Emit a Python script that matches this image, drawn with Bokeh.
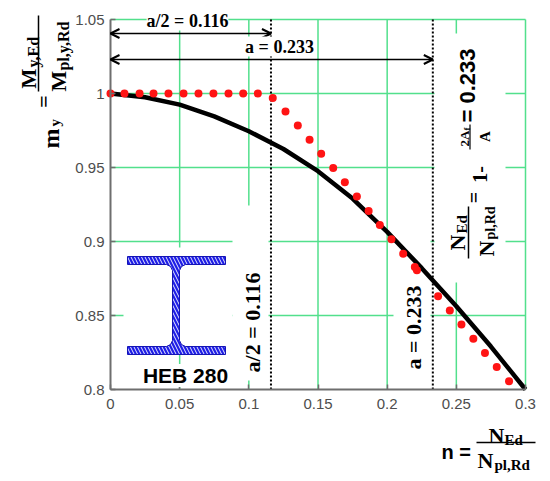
import math
from bokeh.plotting import figure
from bokeh.models import Label, Arrow, OpenHead, FixedTicker, Range1d
from bokeh.embed import file_html
from bokeh.resources import INLINE

# ---------------- data ----------------
x_ticks = [0, 0.05, 0.1, 0.15, 0.2, 0.25, 0.3]
x_tick_labels = ["0", "0.05", "0.1", "0.15", "0.2", "0.25", "0.3"]
y_ticks = [0.8, 0.85, 0.9, 0.95, 1.0, 1.05]
y_tick_labels = ["0.8", "0.85", "0.9", "0.95", "1", "1.05"]

# black curve
n_curve = [0, 0.025, 0.05, 0.075, 0.1, 0.125, 0.15, 0.175, 0.2, 0.225,
           0.25, 0.275, 0.3]
m_curve = [1.0, 0.9975, 0.9925, 0.9845, 0.9745, 0.9625, 0.9475, 0.929,
           0.9065, 0.882, 0.8562, 0.829, 0.8]

# red dots
n_dots = [0, 0.0101, 0.021, 0.0311, 0.0419, 0.0528, 0.0636, 0.0744, 0.0853,
          0.0959, 0.1065, 0.1173, 0.1265, 0.1354, 0.1439, 0.1523, 0.161,
          0.1694, 0.1781, 0.1866, 0.1947, 0.2031, 0.2116, 0.22, 0.2215,
          0.2368, 0.2453, 0.2537, 0.2623, 0.2707, 0.2792, 0.2881]
m_dots = [1.0, 1.0, 1.0, 1.0, 1.0, 1.0, 1.0, 1.0, 1.0,
          1.0, 1.0, 0.997, 0.9878, 0.9784, 0.9687, 0.9593, 0.9497,
          0.9401, 0.9304, 0.9206, 0.9111, 0.9016, 0.8917, 0.8828, 0.8805,
          0.8630, 0.8534, 0.8439, 0.8343, 0.8247, 0.8152, 0.8056]

a_half = 0.116
a_full = 0.233

X_RANGE = (0, 0.3)
Y_RANGE = (0.8, 1.05)

# ---------------- layout ----------------
W, H = 542, 473
PL, PR, PT, PB = 110, 525, 19, 389   # where the axes box sits, canvas pixels

GRID = "#52e08c"
AXIS = "#6e6e6e"
SERIF = "Liberation Serif"
SANS = "Liberation Sans"


def X(px):
    return X_RANGE[0] + (px - PL) / (PR - PL) * (X_RANGE[1] - X_RANGE[0])


def Y(py):
    return Y_RANGE[1] - (py - PT) / (PB - PT) * (Y_RANGE[1] - Y_RANGE[0])


# the frame covers the whole canvas so that every text can be placed freely
p = figure(width=W, height=H, output_backend="svg", toolbar_location=None,
           x_range=Range1d(X(0), X(W)), y_range=Range1d(Y(H), Y(0)),
           min_border=0)
p.outline_line_color = None
p.background_fill_color = "white"
p.border_fill_color = "white"
p.xgrid.visible = False
p.ygrid.visible = False

p.xaxis.fixed_location = Y_RANGE[0]
p.yaxis.fixed_location = X_RANGE[0]
p.xaxis.bounds = X_RANGE
p.yaxis.bounds = Y_RANGE

for ax, ticks, labels in ((p.xaxis[0], x_ticks, x_tick_labels),
                          (p.yaxis[0], y_ticks, y_tick_labels)):
    ax.ticker = FixedTicker(ticks=ticks)
    ax.major_label_overrides = {t: l for t, l in zip(ticks, labels)}
    ax.axis_line_color = AXIS
    ax.axis_line_width = 2
    ax.major_tick_line_color = AXIS
    ax.major_tick_line_width = 1.5
    ax.major_tick_in = 5
    ax.major_tick_out = 0
    ax.minor_tick_line_color = None
    ax.major_label_text_font = SANS
    ax.major_label_text_font_size = "15px"
    ax.major_label_text_color = "#4d4d4d"
p.xaxis.major_label_standoff = 9
p.yaxis.major_label_standoff = 6

# grid lines at the tick values
gx = x_ticks[1:]
gy = y_ticks[1:]
p.segment(x0=gx, y0=[Y_RANGE[0]] * len(gx), x1=gx, y1=[Y_RANGE[1]] * len(gx),
          line_color=GRID, line_width=1.5)
p.segment(x0=[X_RANGE[0]] * len(gy), y0=gy, x1=[X_RANGE[1]] * len(gy), y1=gy,
          line_color=GRID, line_width=1.5)

# white boxes behind the in-plot texts and picture
mask_l = [123, 232, 393, 434]
mask_r = [232, 268, 430, 505]
mask_t = [247, 205, 236, 33]
mask_b = [345, 380, 380, 282]
p.quad(left=[X(v) for v in mask_l], right=[X(v) for v in mask_r],
       top=[Y(v) for v in mask_t], bottom=[Y(v) for v in mask_b],
       fill_color="white", line_color=None)

# I-beam icon (outline in canvas pixels)
ib_px = [127, 225, 225, 185, 181, 179, 179, 181, 185, 225, 225, 127, 127,
         166, 170, 172, 172, 170, 166, 127]
ib_py = [256, 256, 264, 264, 266, 270, 340, 344, 346, 346, 354, 354, 346,
         346, 344, 340, 270, 266, 264, 264]
p.patch([X(v) for v in ib_px], [Y(v) for v in ib_py], fill_color="#1e1ee6",
        line_color="#1414b4", line_width=1, hatch_pattern="left_diagonal_line",
        hatch_color="white", hatch_weight=0.9, hatch_scale=7)

# vertical dotted lines at a/2 and a
p.segment(x0=[a_half, a_full], y0=[Y_RANGE[0]] * 2, x1=[a_half, a_full],
          y1=[Y_RANGE[1]] * 2, line_color="black", line_width=2, line_dash="2 2")

# curve and dots
p.line(n_curve, m_curve, line_color="black", line_width=4.5)
p.scatter(n_dots, m_dots, size=8, fill_color="#ff1414", line_color=None)

# top dimension arrows
for xe, py in ((a_half, 33), (a_full, 59)):
    p.add_layout(Arrow(start=OpenHead(size=9, line_width=2, line_color="black"),
                       end=OpenHead(size=9, line_width=2, line_color="black"),
                       x_start=0, y_start=Y(py), x_end=xe, y_end=Y(py),
                       line_width=1.6, line_color="black"))


def lab(text, px, py, size, font=SERIF, style="bold", angle=0.0, align="left",
        baseline="alphabetic", bg=None):
    p.add_layout(Label(x=X(px), y=Y(py), text=text, angle=angle, text_font=font,
                       text_font_style=style, text_font_size=f"{size}px",
                       text_align=align, text_baseline=baseline, text_color="black",
                       background_fill_color=bg))


def bar(px0, py0, px1, py1, w=1.5):
    p.add_layout(Arrow(start=None, end=None, x_start=X(px0), y_start=Y(py0),
                       x_end=X(px1), y_end=Y(py1), line_width=w, line_color="black"))


R = math.pi / 2

lab(f"a/2 = {a_half}", 187, 20, 18, align="center", baseline="middle", bg="white")
lab(f"a = {a_full}", 279, 46, 18, align="center", baseline="middle", bg="white")
lab(f"a/2 = {a_half}", 252, 322, 22, angle=R, align="center", baseline="middle")
lab(f"a = {a_full}", 413, 327, 22, angle=R, align="center", baseline="middle")
lab("HEB 280", 185, 375, 21, font=SANS, align="center", baseline="middle", bg="white")

# y-axis label  m_y = M_y,Ed / M_pl,y,Rd  (rotated)
lab("m", 50, 148, 24, angle=R)
lab("y", 54, 126, 15, angle=R)
lab("=", 43, 101, 22, angle=R, align="center", baseline="middle")
lab("M", 28, 88, 21, angle=R)
lab("y,Ed", 33, 67, 16, angle=R)
bar(38, 15, 38, 91)
lab("M", 58, 91, 22, angle=R)
lab("pl,y,Rd", 63, 70, 16, angle=R)

# x-axis label  n = N_Ed / N_pl,Rd
lab("n =", 441, 451, 20, font=SANS)
lab("N", 488, 435, 22)
lab("Ed", 504, 439, 15)
bar(476, 442, 535, 442)
lab("N", 477, 460, 22)
lab("pl,Rd", 494, 464, 15)

# right formula (rotated)  N_Ed/N_pl,Rd = 1 - 2A_f/A = 0.233
lab("N", 457, 250, 22, angle=R)
lab("Ed", 461, 233, 15, angle=R)
bar(468, 206, 468, 258)
lab("N", 486, 256, 22, angle=R)
lab("pl,Rd", 490, 239, 14, angle=R)
lab("=", 473, 197, 20, angle=R, align="center", baseline="middle")
lab("1-", 479, 174, 20, angle=R, align="center")
lab("2A", 464, 146, 13, angle=R)
lab("f", 466, 130, 9, angle=R)
bar(469.5, 124, 469.5, 149, 1.2)
lab("A", 484, 136, 15, angle=R, align="center")
lab(f"= {a_full}", 467, 85, 22, font=SANS, angle=R, align="center", baseline="middle")

open("out.html", "w").write(file_html(p, INLINE))
